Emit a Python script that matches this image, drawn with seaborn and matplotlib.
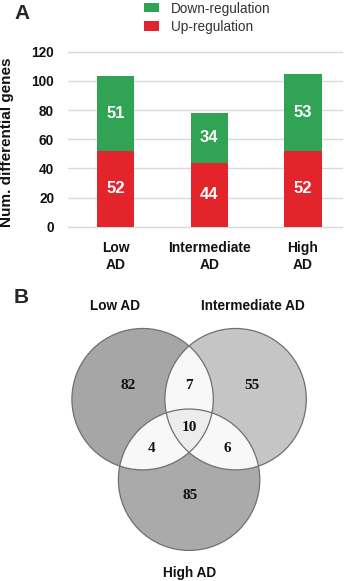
import numpy as np
import pandas as pd
import matplotlib
matplotlib.use("Agg")
import matplotlib.pyplot as plt
import seaborn as sns
from matplotlib.patches import Patch, Circle, Polygon

# ---------------- data ----------------
categories = ["Low\nAD", "Intermediate\nAD", "High\nAD"]
up_regulation = [52, 44, 52]
down_regulation = [51, 34, 53]
y_ticks = [0, 20, 40, 60, 80, 100, 120]
legend_labels = ["Down-regulation", "Up-regulation"]

venn_sets = ["Low AD", "Intermediate AD", "High AD"]
venn_only = [82, 55, 85]      # Low only, Intermediate only, High only
venn_pairs = [7, 4, 6]        # Low&Int, Low&High, Int&High
venn_all = 10

# ---------------- style ----------------
sns.set_theme(style="white")
plt.rcParams['font.family'] = ['Liberation Sans', 'DejaVu Sans']

W, H, DPI = 350, 581, 100
fig = plt.figure(figsize=(W / DPI, H / DPI), dpi=DPI)

GREEN = "#31a354"
RED = "#e3242b"


def fx(px):
    return px / W


def fy(py):
    return 1 - py / H


df = pd.DataFrame({"cat": categories, "up": up_regulation, "down": down_regulation})
df["total"] = df["up"] + df["down"]

# ---------------- panel A ----------------
ax = fig.add_axes([fx(68), fy(229.6), fx(343) - fx(68), fy(44.4) - fy(229.6)])
sns.barplot(data=df, x="cat", y="total", color=GREEN, width=0.4, saturation=1,
            errorbar=None, ax=ax, linewidth=0, zorder=2)
sns.barplot(data=df, x="cat", y="up", color=RED, width=0.4, saturation=1,
            errorbar=None, ax=ax, linewidth=0, zorder=2)

green_bars = ax.containers[0]
red_bars = ax.containers[1]
for bar, u, d in zip(green_bars, df["up"], df["down"]):
    ax.text(bar.get_x() + bar.get_width() / 2, u + d / 2, f"{d}", color="white",
            fontsize=12, fontweight="bold", ha="center", va="center", zorder=3)
for bar, u in zip(red_bars, df["up"]):
    ax.text(bar.get_x() + bar.get_width() / 2, u / 2, f"{u}", color="white",
            fontsize=12, fontweight="bold", ha="center", va="center", zorder=3)

ax.set_ylim(-2, 125)
ax.set_xlim(-0.507, 2.427)
ax.set_yticks(y_ticks)
ax.yaxis.grid(True, color="#d9d9d9", lw=1.0)
ax.set_axisbelow(True)
for s in ax.spines.values():
    s.set_visible(False)
ax.set_xlabel("")
ax.set_ylabel("")
ax.tick_params(axis="y", length=0, pad=10, labelsize=9.8)
ax.tick_params(axis="x", length=0, pad=8.5, labelsize=10)
for t in ax.get_yticklabels():
    t.set_fontweight("bold")
    t.set_color("#111111")
for t in ax.get_xticklabels():
    t.set_fontweight("bold")
    t.set_color("#111111")
    t.set_linespacing(1.2)

fig.text(fx(7), fy(142), "Num. differential genes", rotation=90, fontsize=11,
         fontweight="bold", ha="center", va="center", color="#111111")

handles = [Patch(facecolor=GREEN, edgecolor="none"), Patch(facecolor=RED, edgecolor="none")]
fig.legend(handles, legend_labels, loc="upper left", bbox_to_anchor=(fx(144), fy(1.5)),
           frameon=False, fontsize=9.8, handlelength=1.1, handleheight=0.66,
           handletextpad=0.88, labelspacing=0.31, borderpad=0, borderaxespad=0,
           labelcolor="#333333")

fig.text(fx(21.7), fy(19.3), "A", fontsize=15, fontweight="bold", ha="center", va="baseline")
fig.text(fx(21.5), fy(303.3), "B", fontsize=15, fontweight="bold", ha="center", va="baseline")

# ---------------- panel B (Venn) ----------------
ax2 = fig.add_axes([0, 0, 1, 1])
ax2.set_xlim(0, W)
ax2.set_ylim(H, 0)
ax2.axis("off")

cx, cy_top, side, R = 189.1, 399.2, 93.0, 70.7
centers = [np.array([cx - side / 2, cy_top]),
           np.array([cx + side / 2, cy_top]),
           np.array([cx, cy_top + side * np.sqrt(3) / 2])]
fills = ["#a6a6a6", "#c5c5c5", "#aaaaaa"]


def circle_pts(c, r, n=240):
    t = np.linspace(0, 2 * np.pi, n, endpoint=False)
    return np.column_stack([c[0] + r * np.cos(t), c[1] + r * np.sin(t)])


def cross(u, v):
    return u[0] * v[1] - u[1] * v[0]


def clip_poly(subject, clipper):
    area = 0.5 * np.sum(clipper[:, 0] * np.roll(clipper[:, 1], -1)
                        - np.roll(clipper[:, 0], -1) * clipper[:, 1])
    sgn = 1.0 if area > 0 else -1.0
    out = [np.array(p) for p in subject]
    m = len(clipper)
    for i in range(m):
        a = clipper[i]
        b = clipper[(i + 1) % m]
        ab = b - a
        inp = out
        out = []
        if not inp:
            break
        for j in range(len(inp)):
            p = inp[j - 1]
            q = inp[j]
            pin = sgn * cross(ab, p - a) >= 0
            qin = sgn * cross(ab, q - a) >= 0
            if qin:
                if not pin:
                    t = -cross(ab, p - a) / cross(ab, q - p)
                    out.append(p + t * (q - p))
                out.append(q)
            elif pin:
                t = -cross(ab, p - a) / cross(ab, q - p)
                out.append(p + t * (q - p))
    return np.array(out)


polys = [circle_pts(c, R) for c in centers]
for c, f in zip(centers, fills):
    ax2.add_patch(Circle(c, R, facecolor=f, edgecolor="none", zorder=1))
pair_idx = [(0, 1), (0, 2), (1, 2)]
for i, j in pair_idx:
    ax2.add_patch(Polygon(clip_poly(polys[i], polys[j]), closed=True,
                          facecolor="#f8f8f8", edgecolor="none", zorder=2))
tri = clip_poly(clip_poly(polys[0], polys[1]), polys[2])
ax2.add_patch(Polygon(tri, closed=True, facecolor="#ededee", edgecolor="none", zorder=3))
for c in centers:
    ax2.add_patch(Circle(c, R, facecolor="none", edgecolor="#707070", lw=0.9, zorder=4))

centroid = np.mean(centers, axis=0)
serif = ["Liberation Serif", "DejaVu Serif"]
num_kw = dict(fontsize=11, fontweight="bold", ha="center", va="baseline",
              family=serif, color="#111111", zorder=5)
only_offsets = [(-60.8, -37), (62.6, -37), (0.9, 73.2)]
pair_offsets = [(0, -37), (-38, 26.2), (38.6, 26.2)]
for val, (dx, dy) in zip(venn_only, only_offsets):
    ax2.text(centroid[0] + dx, centroid[1] + dy, f"{val}", **num_kw)
for val, (dx, dy) in zip(venn_pairs, pair_offsets):
    ax2.text(centroid[0] + dx, centroid[1] + dy, f"{val}", **num_kw)
ax2.text(centroid[0], centroid[1] + 4.6, f"{venn_all}", **num_kw)

set_label_pos = [(115, 310), (253, 310), (190, 577)]
for name, (px, py) in zip(venn_sets, set_label_pos):
    ax2.text(px, py, name, fontsize=9.8, fontweight="bold", ha="center",
             va="baseline", color="#111111")

fig.savefig("out.png", dpi=DPI)
